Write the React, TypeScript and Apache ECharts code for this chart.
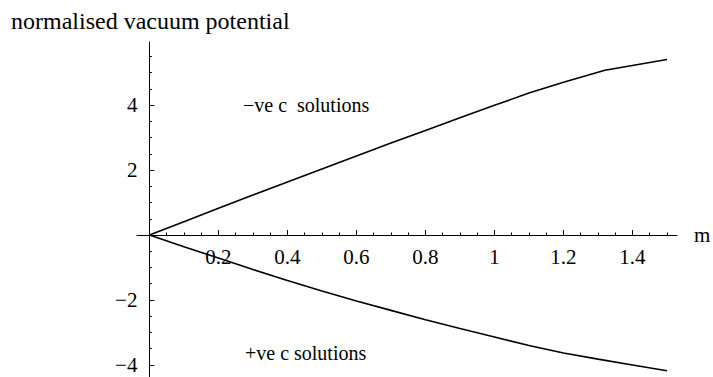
import React, { useEffect, useRef } from "react";
import * as echarts from "echarts";

// m values and normalised vacuum potential for each family of solutions
const mUpper = [0, 0.1, 0.2, 0.3, 0.4, 0.5, 0.6, 0.7, 0.8, 0.9, 1.0, 1.1, 1.2, 1.32, 1.5];
const negativeC = [0, 0.41, 0.82, 1.23, 1.63, 2.03, 2.43, 2.83, 3.22, 3.61, 3.99, 4.37, 4.7, 5.07, 5.4];

const mLower = [0, 0.1, 0.2, 0.3, 0.4, 0.5, 0.6, 0.7, 0.8, 0.9, 1.0, 1.1, 1.2, 1.3, 1.4, 1.5];
const positiveC = [0, -0.36, -0.71, -1.06, -1.4, -1.72, -2.03, -2.32, -2.61, -2.88, -3.14, -3.4, -3.63, -3.82, -4.0, -4.18];

const xTicks = [0.2, 0.4, 0.6, 0.8, 1, 1.2, 1.4];
const yTicks = [-4, -2, 2, 4];

const yTitle = "normalised vacuum potential";
const xTitle = "m";
const upperNote = "\u2212ve c\u00a0 solutions";
const lowerNote = "+ve c solutions";

const SERIF = "'Liberation Serif', 'Times New Roman', Times, serif";

// plot frame (pixels) and axis extents
const W = 713;
const H = 377;
const GRID = { left: 137, right: 36, top: 42, bottom: 0 };
const X_MIN = -0.036;
const X_MAX = 1.529;
const Y_MIN = -4.37;
const Y_MAX = 5.94;

const pairs = (xs: number[], ys: number[]) => xs.map((x, i) => [x, ys[i]]);

export default function App() {
  const ref = useRef<HTMLDivElement>(null);

  useEffect(() => {
    if (!ref.current) return;
    const chart = echarts.init(ref.current, undefined, { renderer: "svg" });
    const lineStyle = { color: "#000", width: 1 };

    // Axes cross at the origin: shift each axis from the grid edge onto zero.
    const gridW = W - GRID.left - GRID.right;
    const gridH = H - GRID.top - GRID.bottom;
    const xAxisShift = -gridH * ((0 - Y_MIN) / (Y_MAX - Y_MIN));
    const yAxisShift = -gridW * ((0 - X_MIN) / (X_MAX - X_MIN));

    const labelText = { fontFamily: SERIF, fontSize: 21, color: "#000" };
    const noteStyle = (text: string) => ({
      text,
      font: `20px ${SERIF}`,
      fill: "#000",
      verticalAlign: "middle",
    });

    chart.setOption({
      animation: false,
      backgroundColor: "#fff",
      title: {
        text: yTitle,
        left: 6,
        top: 4,
        textStyle: { ...labelText, fontSize: 24, fontWeight: "normal" },
      },
      grid: { ...GRID, containLabel: false, outerBoundsMode: "none" },
      xAxis: {
        type: "value",
        min: X_MIN,
        max: X_MAX,
        splitNumber: 8,
        offset: xAxisShift,
        name: xTitle,
        nameLocation: "end",
        nameGap: 17,
        nameTextStyle: { ...labelText, verticalAlign: "middle" },
        axisLine: { onZero: false, lineStyle },
        axisTick: { show: true, inside: true, length: 5, customValues: xTicks, lineStyle },
        minorTick: { show: true, splitNumber: 4, length: 2.5, lineStyle },
        axisLabel: { ...labelText, customValues: xTicks, margin: 11 },
        splitLine: { show: false },
      },
      yAxis: {
        type: "value",
        min: Y_MIN,
        max: Y_MAX,
        offset: yAxisShift,
        axisLine: { onZero: false, lineStyle },
        axisTick: { show: true, inside: true, length: 5, customValues: yTicks, lineStyle },
        minorTick: { show: true, splitNumber: 4, length: 2.5, lineStyle },
        axisLabel: {
          ...labelText,
          customValues: yTicks,
          margin: 12,
          align: "right",
          formatter: (v: number) => String(v).replace("-", "\u2212"),
        },
        splitLine: { show: false },
      },
      graphic: [
        { type: "text", x: 243, y: 105, style: noteStyle(upperNote) },
        { type: "text", x: 245, y: 353, style: noteStyle(lowerNote) },
      ],
      series: [
        {
          type: "line",
          data: pairs(mUpper, negativeC),
          showSymbol: false,
          lineStyle: { color: "#000", width: 1.6 },
        },
        {
          type: "line",
          data: pairs(mLower, positiveC),
          showSymbol: false,
          lineStyle: { color: "#000", width: 1.6 },
        },
      ],
    });
    return () => chart.dispose();
  }, []);

  return (
    <div
      ref={ref}
      style={{ position: "fixed", left: 0, top: 0, width: W, height: H, background: "#fff" }}
    />
  );
}
